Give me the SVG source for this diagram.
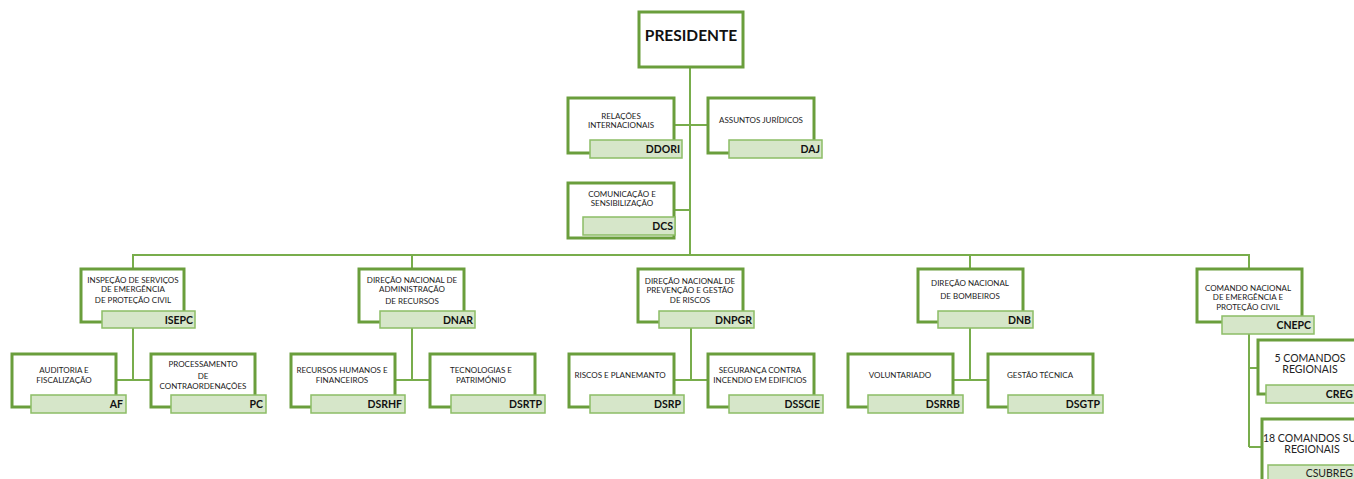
<svg xmlns="http://www.w3.org/2000/svg" width="1354" height="479" viewBox="0 0 1354 479">
<style>
.box{fill:#fff;stroke:#6a9e3c;stroke-width:3}
.lbl{fill:#d6e6c9;stroke:#8cbd66;stroke-width:1.5}
.t{font-family:Lato,"Open Sans",sans-serif;font-size:8px;fill:#222;text-anchor:middle}
.t2{font-family:Lato,"Open Sans",sans-serif;font-size:10.5px;fill:#222;text-anchor:middle}
.code{font-family:Lato,"Open Sans",sans-serif;font-size:10.5px;font-weight:bold;fill:#111;text-anchor:end}
.pres{font-family:Lato,"Open Sans",sans-serif;font-size:15.5px;font-weight:bold;fill:#111;text-anchor:middle}
.ln{fill:none;stroke:#78ad4c;stroke-width:2}
</style>
<g id="connectors">
<path class="ln" d="M690,67 V255"/>
<path class="ln" d="M674,125 H708"/>
<path class="ln" d="M674,210 H690"/>
<path class="ln" d="M133,269 V255 H1249 V269"/>
<path class="ln" d="M412,255 V269"/>
<path class="ln" d="M970,255 V269"/>
<path class="ln" d="M133,328 V380 M115,380 H151"/>
<path class="ln" d="M412,328 V380 M395,380 H430"/>
<path class="ln" d="M691,328 V380 M674,380 H708"/>
<path class="ln" d="M970,328 V380 M953,380 H988"/>
<path class="ln" d="M1249,334 V447 M1249,368 H1258 M1249,447 H1262"/>
</g>
<g id="presidente">
<rect class="box" x="639" y="12" width="104" height="55"/>
<text class="pres" x="691" y="41">PRESIDENTE</text>
</g>
<g id="ddori">
<rect class="box" x="568" y="98" width="106" height="55"/>
<rect class="lbl" x="590" y="140" width="92" height="18"/>
<text class="t" x="621" y="119">RELAÇÕES</text>
<text class="t" x="621" y="128">INTERNACIONAIS</text>
<text class="code" x="680" y="153">DDORI</text>
</g>
<g id="daj">
<rect class="box" x="708" y="98" width="106" height="55"/>
<rect class="lbl" x="729" y="140" width="93" height="18"/>
<text class="t" x="761" y="123">ASSUNTOS JURÍDICOS</text>
<text class="code" x="820" y="153">DAJ</text>
</g>
<g id="dcs">
<rect class="box" x="568" y="183" width="106" height="55"/>
<rect class="lbl" x="583" y="217" width="92" height="18"/>
<text class="t" x="622" y="197">COMUNICAÇÃO E</text>
<text class="t" x="622" y="206">SENSIBILIZAÇÃO</text>
<text class="code" x="673" y="230">DCS</text>
</g>
<g id="isepc">
<rect class="box" x="81" y="269" width="103" height="53"/>
<rect class="lbl" x="102" y="311" width="93" height="17"/>
<text class="t" x="133" y="283">INSPEÇÃO DE SERVIÇOS</text>
<text class="t" x="133" y="292">DE EMERGÊNCIA</text>
<text class="t" x="133" y="303">DE PROTEÇÃO CIVIL</text>
<text class="code" x="193" y="324">ISEPC</text>
</g>
<g id="dnar">
<rect class="box" x="359" y="269" width="105" height="53"/>
<rect class="lbl" x="380" y="311" width="95" height="17"/>
<text class="t" x="412" y="283">DIREÇÃO NACIONAL DE</text>
<text class="t" x="412" y="292">ADMINISTRAÇÃO</text>
<text class="t" x="412" y="304">DE RECURSOS</text>
<text class="code" x="473" y="324">DNAR</text>
</g>
<g id="dnpgr">
<rect class="box" x="638" y="269" width="105" height="53"/>
<rect class="lbl" x="659" y="311" width="95" height="17"/>
<text class="t" x="690" y="284">DIREÇÃO NACIONAL DE</text>
<text class="t" x="690" y="293">PREVENÇÃO  E GESTÃO</text>
<text class="t" x="690" y="303">DE RISCOS</text>
<text class="code" x="752" y="324">DNPGR</text>
</g>
<g id="dnb">
<rect class="box" x="918" y="269" width="105" height="53"/>
<rect class="lbl" x="938" y="311" width="95" height="17"/>
<text class="t" x="970" y="286">DIREÇÃO NACIONAL</text>
<text class="t" x="970" y="299">DE BOMBEIROS</text>
<text class="code" x="1031" y="324">DNB</text>
</g>
<g id="cnepc">
<rect class="box" x="1197" y="269" width="105" height="53"/>
<rect class="lbl" x="1222" y="316" width="92" height="18"/>
<text class="t" x="1248" y="291">COMANDO NACIONAL</text>
<text class="t" x="1248" y="300">DE EMERGÊNCIA E</text>
<text class="t" x="1248" y="310">PROTEÇÃO CIVIL</text>
<text class="code" x="1311" y="329">CNEPC</text>
</g>
<g id="af">
<rect class="box" x="12" y="354" width="104" height="53"/>
<rect class="lbl" x="31" y="395" width="95" height="18"/>
<text class="t" x="64" y="373">AUDITORIA E</text>
<text class="t" x="64" y="383">FISCALIZAÇÃO</text>
<text class="code" x="123" y="408">AF</text>
</g>
<g id="pc">
<rect class="box" x="151" y="354" width="104" height="53"/>
<rect class="lbl" x="171" y="395" width="95" height="18"/>
<text class="t" x="203" y="367">PROCESSAMENTO</text>
<text class="t" x="203" y="379">DE</text>
<text class="t" x="203" y="389">CONTRAORDENAÇÕES</text>
<text class="code" x="263" y="408">PC</text>
</g>
<g id="dsrhf">
<rect class="box" x="291" y="354" width="104" height="53"/>
<rect class="lbl" x="311" y="395" width="94" height="18"/>
<text class="t" x="342" y="373">RECURSOS HUMANOS E</text>
<text class="t" x="342" y="383">FINANCEIROS</text>
<text class="code" x="402" y="408">DSRHF</text>
</g>
<g id="dsrtp">
<rect class="box" x="430" y="354" width="105" height="53"/>
<rect class="lbl" x="451" y="395" width="94" height="18"/>
<text class="t" x="481" y="373">TECNOLOGIAS E</text>
<text class="t" x="481" y="383">PATRIMÓNIO</text>
<text class="code" x="542" y="408">DSRTP</text>
</g>
<g id="dsrp">
<rect class="box" x="569" y="354" width="105" height="53"/>
<rect class="lbl" x="590" y="395" width="94" height="18"/>
<text class="t" x="620" y="378">RISCOS E PLANEMANTO</text>
<text class="code" x="681" y="408">DSRP</text>
</g>
<g id="dsscie">
<rect class="box" x="708" y="354" width="106" height="53"/>
<rect class="lbl" x="729" y="395" width="94" height="18"/>
<text class="t" x="760" y="373">SEGURANÇA CONTRA</text>
<text class="t" x="760" y="383">INCENDIO EM EDIFICIOS</text>
<text class="code" x="820" y="408">DSSCIE</text>
</g>
<g id="dsrrb">
<rect class="box" x="848" y="354" width="105" height="53"/>
<rect class="lbl" x="868" y="395" width="95" height="18"/>
<text class="t" x="900" y="378">VOLUNTARIADO</text>
<text class="code" x="960" y="408">DSRRB</text>
</g>
<g id="dsgtp">
<rect class="box" x="988" y="354" width="105" height="53"/>
<rect class="lbl" x="1008" y="395" width="95" height="18"/>
<text class="t" x="1040" y="378">GESTÃO TÉCNICA</text>
<text class="code" x="1100" y="408">DSGTP</text>
</g>
<g id="creg">
<rect class="box" x="1258" y="340" width="110" height="54"/>
<rect class="lbl" x="1266" y="385" width="100" height="18"/>
<text class="t2" x="1310" y="362">5 COMANDOS</text>
<text class="t2" x="1310" y="373">REGIONAIS</text>
<text class="code" x="1353" y="398">CREG</text>
</g>
<g id="csubreg">
<rect class="box" x="1262" y="419" width="110" height="70"/>
<rect class="lbl" x="1268" y="465" width="100" height="20"/>
<text class="t2" x="1263" y="442" style="text-anchor:start">18 COMANDOS SU</text>
<text class="t2" x="1312" y="453">REGIONAIS</text>
<text class="t2" x="1353" y="477" style="text-anchor:end">CSUBREG</text>
</g>
</svg>
